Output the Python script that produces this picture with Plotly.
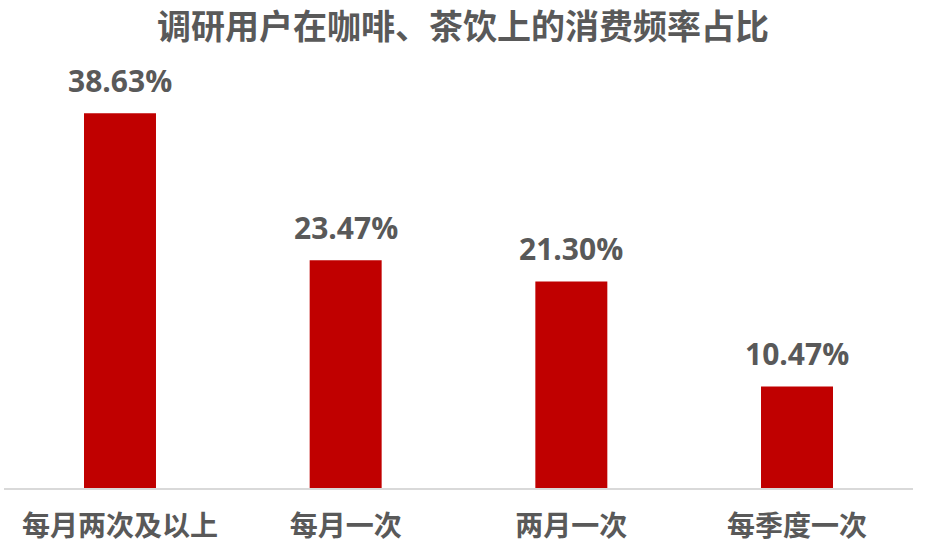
import plotly.graph_objects as go

categories = ["每月两次及以上", "每月一次", "两月一次", "每季度一次"]
values = [38.63, 23.47, 21.30, 10.47]
labels = ["38.63%", "23.47%", "21.30%", "10.47%"]
title_text = "调研用户在咖啡、茶饮上的消费频率占比"

TEXT = "#595959"
BAR = "#C00000"
CJK = "Noto Sans CJK SC"

fig = go.Figure(go.Bar(
    x=categories, y=values, marker=dict(color=BAR, line=dict(width=0)),
    hoverinfo="skip",
))

for c, v, t in zip(categories, values, labels):
    fig.add_annotation(x=c, y=v, text=f"<b>{t}</b>", showarrow=False,
                       yanchor="bottom", yshift=10,
                       font=dict(family="Open Sans", size=30, color=TEXT))

fig.update_layout(
    width=926, height=545,
    margin=dict(l=4, r=13, t=100, b=57),
    paper_bgcolor="white", plot_bgcolor="white",
    bargap=0.681,
    showlegend=False,
    title=dict(text=f"<b>{title_text}</b>", x=0.5, xanchor="center",
               y=1 - 27 / 545, yanchor="middle",
               font=dict(family=CJK, size=34, color=TEXT)),
    xaxis=dict(range=[-0.514, 3.514], showline=True, linecolor="#D9D9D9", linewidth=2,
               ticks="outside", ticklen=12, tickcolor="rgba(0,0,0,0)",
               tickfont=dict(family=CJK, size=28, color=TEXT),
               showgrid=False, zeroline=False, automargin=False),
    yaxis=dict(range=[0, 40], visible=False, showgrid=False, zeroline=False,
               automargin=False),
)
fig.update_xaxes(tickprefix="<b>", ticksuffix="</b>")

fig.write_html("out.html", config={"displayModeBar": False},
               post_script="document.body.style.margin='0';")
